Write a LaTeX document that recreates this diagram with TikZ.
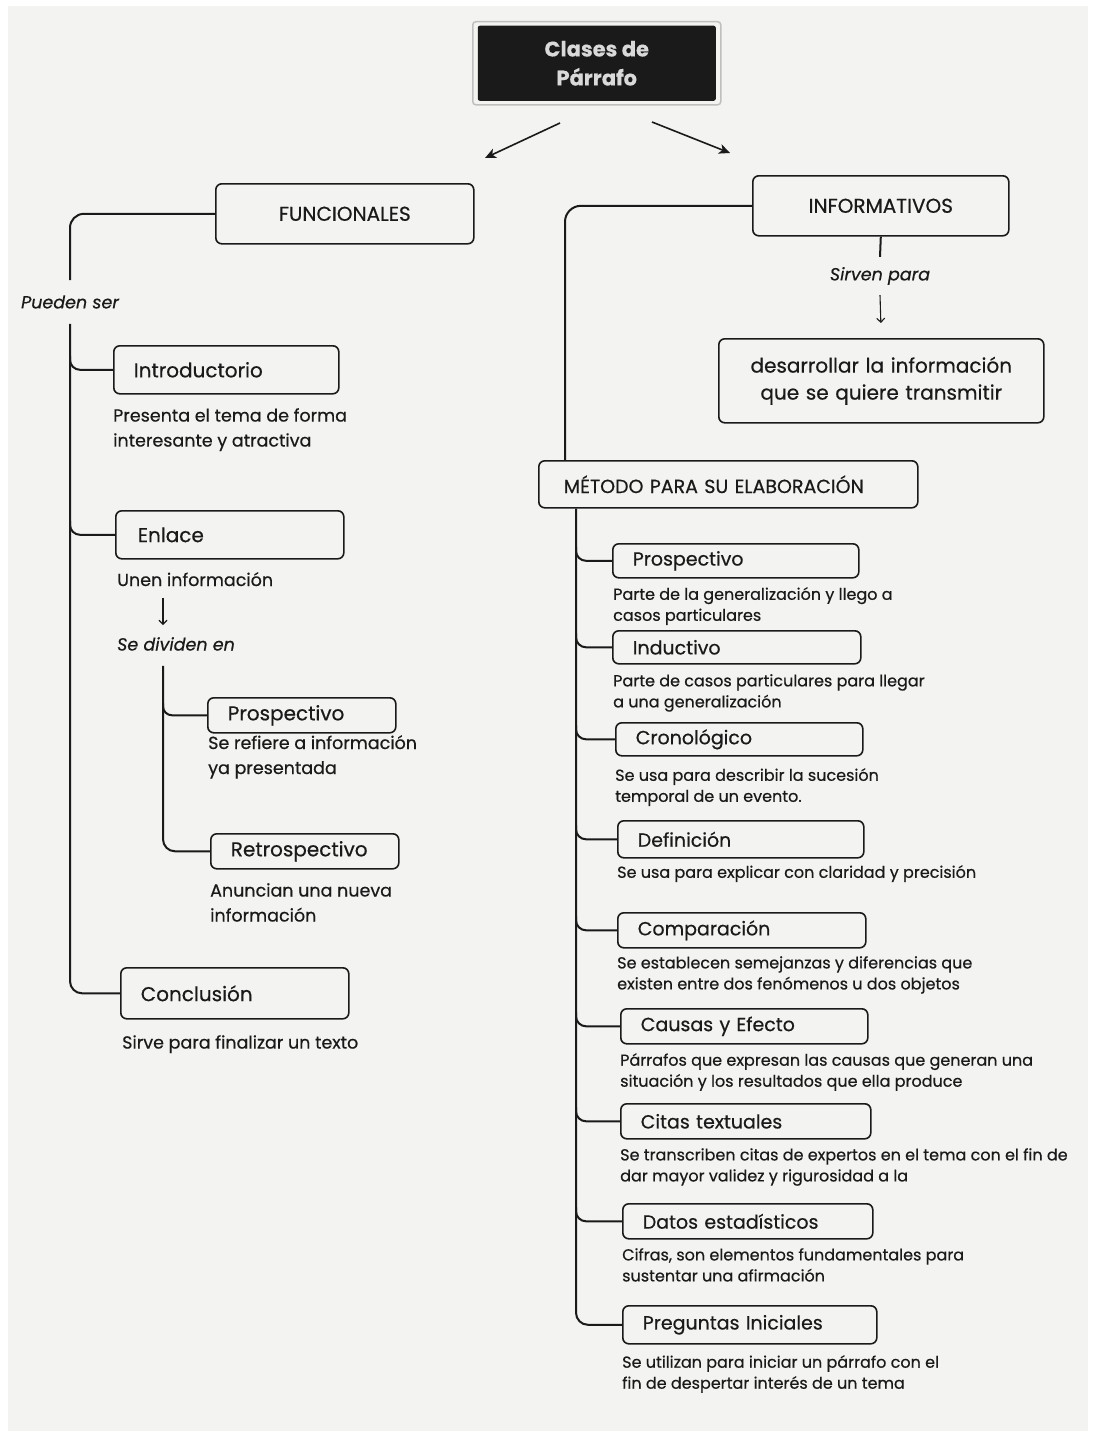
\documentclass[tikz,border=0pt]{standalone}
\usepackage{fontspec}
\setmainfont{Poppins}[FakeBold=0.5]
\usetikzlibrary{arrows.meta,calc}
\definecolor{ink}{HTML}{1A1A1A}
\definecolor{paper}{HTML}{F3F3F1}
\newcommand\fsz[2]{\fontsize{#1}{#2}\selectfont}
\begin{document}
\begin{tikzpicture}[x=1pt,y=-1pt,
  box/.style={draw=ink, line width=1.6pt, rounded corners=6pt, inner ysep=0pt, anchor=north west, align=left, text=ink},
  cbox/.style={box, align=center},
  conn/.style={draw=ink, line width=2pt},
  lab/.style={font=\fsz{20}{24}},
  rlab/.style={font=\fsz{19}{22}},
  ltxt/.style={anchor=north west, inner sep=0pt, align=left, text=ink, font=\fsz{17.5}{25}},
  rtxt/.style={anchor=north west, inner sep=0pt, align=left, text=ink, font=\fsz{16}{21}},
  itxt/.style={inner sep=0pt, text=ink, font=\fsz{17.5}{22}\itshape},
  bigarr/.style={draw=ink, line width=1.6pt, -{Stealth[length=11pt,width=10pt,inset=3pt]}},
  smallarr/.style={draw=ink, line width=1.1pt, -{Straight Barb[length=4pt,width=8pt]}}
]
% background
\fill[white] (0,0) rectangle (1094,1437);
\fill[paper] (8,6) rectangle (1088,1431);
\useasboundingbox (0,0) rectangle (1094,1437);

% title
\node[draw=gray!50, line width=1.5pt, rounded corners=3pt, minimum width=248pt, minimum height=83pt, anchor=north west] (frame) at (472,21) {};
\node[fill=ink, rounded corners=2pt, minimum width=238pt, minimum height=75pt, text=white!85!black, align=center, font=\fsz{21}{29}\bfseries] (title) at (frame.center) {Clases de\\Párrafo};
\coordinate (a1s) at (560,123); \coordinate (a1e) at (485,158);
\coordinate (a2s) at (652,122); \coordinate (a2e) at (730,153);
\draw[bigarr] (a1s) -- (a1e);
\draw[bigarr] (a2s) -- (a2e);

% ---------- left side ----------
\node[cbox, lab, minimum width=258pt, minimum height=60pt, text width=238pt, inner xsep=10pt] (func) at (215,183) {FUNCIONALES};
\node[itxt, inner ysep=15pt] (pueden) at (70,302) {Pueden ser};

\node[box, lab, minimum width=225pt, minimum height=48pt, text width=185pt, inner xsep=20pt] (intro) at (113,345) {Introductorio};
\node[ltxt] (introtxt) at (113,408) {Presenta el tema de forma\\interesante y atractiva};

\node[box, lab, minimum width=228pt, minimum height=48pt, text width=184pt, inner xsep=22pt] (enlace) at (115,510) {Enlace};
\node[ltxt] (unen) at (117,572) {Unen información};
\node[itxt, anchor=north west] (divid) at (117,637) {Se dividen en};

\node[box, lab, minimum width=188pt, minimum height=35pt, text width=148pt, inner xsep=20pt] (lprosp) at (207,697) {Prospectivo};
\node[ltxt] (lprosptxt) at (208,735) {Se refiere a información\\ya presentada};

\node[box, lab, minimum width=188pt, minimum height=35pt, text width=148pt, inner xsep=20pt] (retro) at (210,833) {Retrospectivo};
\node[ltxt] (retrotxt) at (210,883) {Anuncian una nueva\\información};

\node[box, lab, minimum width=228pt, minimum height=51pt, text width=188pt, inner xsep=20pt] (concl) at (120,967) {Conclusión};
\node[ltxt] (concltxt) at (122,1035) {Sirve para finalizar un texto};

% left connectors
\draw[conn, rounded corners=14pt] (func.west) -| (pueden.north);
\draw[conn, rounded corners=12pt] (pueden.south) |- (concl.west);
\draw[conn, rounded corners=10pt] ($(pueden.south |- intro.west)+(0,-14)$) |- (intro.west);
\draw[conn, rounded corners=10pt] ($(pueden.south |- enlace.west)+(0,-14)$) |- (enlace.west);
\draw[smallarr] ($(unen.south west)+(46,12)$) -- ($(divid.north west)+(46,-12)$);
\coordinate (st) at ($(divid.south west)+(46,15)$);
\draw[conn, rounded corners=12pt] (st) |- (retro.west);
\draw[conn, rounded corners=9pt] ($(st |- lprosp.west)+(0,-12)$) |- (lprosp.west);

% ---------- right side ----------
\node[cbox, lab, minimum width=256pt, minimum height=60pt, text width=236pt, inner xsep=10pt] (info) at (752,175) {INFORMATIVOS};
\node[itxt, inner ysep=10pt] (sirven) at (880,276) {Sirven para};
\node[cbox, font=\fsz{20}{27}, minimum width=325pt, minimum height=84pt, text width=305pt, inner xsep=10pt] (desarr) at (718,338) {desarrollar la información\\que se quiere transmitir};
\draw[conn] (info.south) -- (sirven.north);
\draw[smallarr, shorten >=15pt] (sirven.south) -- (desarr.north);

\node[box, font=\fsz{19}{22}, minimum width=379pt, minimum height=47pt, text width=329pt, inner xsep=25pt] (metodo) at (538,460) {MÉTODO PARA SU ELABORACIÓN};
\draw[conn, rounded corners=16pt] (info.west) -| ([xshift=27pt]metodo.north west);

\node[box, rlab, minimum width=246pt, minimum height=34pt, text width=206pt, inner xsep=20pt] (rprosp) at (612,543) {Prospectivo};
\node[rtxt] (rprosptxt) at (613,587) {Parte de la generalización y llego a\\casos particulares};

\node[box, rlab, minimum width=248pt, minimum height=33pt, text width=208pt, inner xsep=20pt] (induct) at (612,630) {Inductivo};
\node[rtxt] (inducttxt) at (613,674) {Parte de casos particulares para llegar\\a una generalización};

\node[box, rlab, minimum width=247pt, minimum height=33pt, text width=207pt, inner xsep=20pt] (crono) at (615,722) {Cronológico};
\node[rtxt] (cronotxt) at (615,768) {Se usa para describir la sucesión\\temporal de un evento.};

\node[box, rlab, minimum width=246pt, minimum height=37pt, text width=206pt, inner xsep=20pt] (defin) at (617,820) {Definición};
\node[rtxt] (defintxt) at (617,865) {Se usa para explicar con claridad y precisión};

\node[box, rlab, minimum width=248pt, minimum height=35pt, text width=208pt, inner xsep=20pt] (compar) at (617,912) {Comparación};
\node[rtxt] (compartxt) at (617,956) {Se establecen semejanzas y diferencias que\\existen entre dos fenómenos u dos objetos};

\node[box, rlab, minimum width=247pt, minimum height=35pt, text width=207pt, inner xsep=20pt] (causas) at (620,1008) {Causas y Efecto};
\node[rtxt] (causastxt) at (620,1053) {Párrafos que expresan las causas que generan una\\situación y los resultados que ella produce};

\node[box, rlab, minimum width=250pt, minimum height=35pt, text width=210pt, inner xsep=20pt] (citas) at (620,1103) {Citas textuales};
\node[rtxt] (citastxt) at (620,1148) {Se transcriben citas de expertos en el tema con el fin de\\dar mayor validez y rigurosidad a la};

\node[box, rlab, minimum width=250pt, minimum height=35pt, text width=210pt, inner xsep=20pt] (datos) at (622,1203) {Datos estadísticos};
\node[rtxt] (datostxt) at (622,1248) {Cifras, son elementos fundamentales para\\sustentar una afirmación};

\node[box, rlab, minimum width=254pt, minimum height=38pt, text width=214pt, inner xsep=20pt] (preg) at (622,1305) {Preguntas Iniciales};
\node[rtxt] (pregtxt) at (622,1355) {Se utilizan para iniciar un párrafo con el\\fin de despertar interés de un tema};

% right trunk
\coordinate (rt) at ([xshift=38pt]metodo.south west);
\draw[conn, rounded corners=12pt] (rt) |- (preg.west);
\foreach \b in {rprosp,induct,crono,defin,compar,causas,citas,datos}{
  \draw[conn, rounded corners=10pt] ($(rt |- \b.west)+(0,-14)$) |- (\b.west);
}
\end{tikzpicture}
\end{document}
